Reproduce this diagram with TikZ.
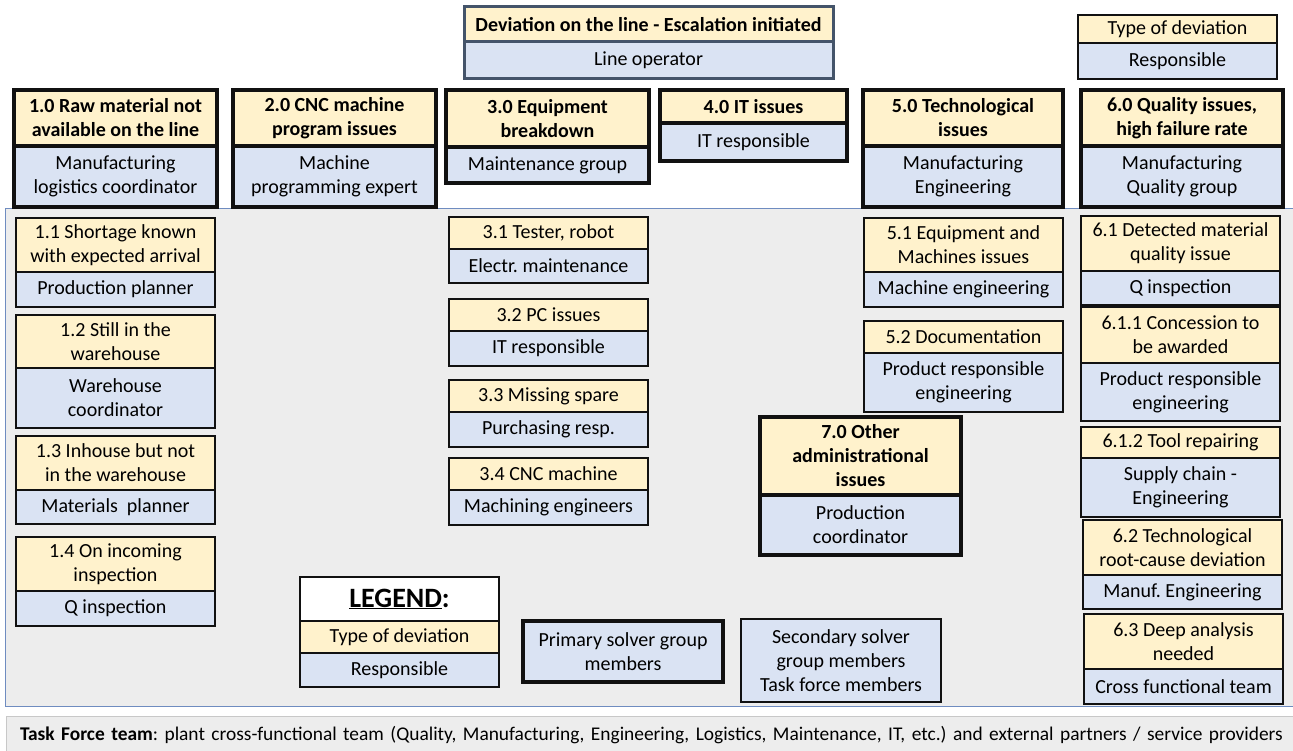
\documentclass[tikz,border=0pt]{standalone}
\usepackage{fontspec}
\setmainfont{Carlito}
\usepackage{xcolor}
\usetikzlibrary{positioning}
\definecolor{typyellow}{HTML}{FFF2CC}
\definecolor{resblue}{HTML}{DAE3F3}
\definecolor{zonegray}{HTML}{EDEDED}
\definecolor{zoneedge}{HTML}{6F8CC0}
\definecolor{slate}{HTML}{44546A}
\definecolor{baredge}{HTML}{C8C8C8}
\definecolor{ink}{HTML}{111111}
\frenchspacing
\tikzset{
  cell/.style={rectangle,draw=ink,line width=1.8pt,outer sep=0pt,inner sep=1pt,
               align=center,anchor=north west,font=\fontsize{20}{24}\selectfont},
  typcell/.style={cell,fill=typyellow},
  rescell/.style={cell,fill=resblue},
  primary/.style={line width=4pt},
  headtxt/.style={font=\fontsize{20}{24}\selectfont\bfseries},
  startbox/.style={draw=slate,line width=3pt},
  zone/.style={rectangle,draw=zoneedge,fill=zonegray,line width=1pt,
               outer sep=0pt,anchor=north west},
  taskbar/.style={rectangle,draw=baredge,fill=zonegray,line width=1pt,
                  outer sep=0pt,anchor=north west,align=left,inner xsep=14pt,
                  font=\fontsize{19.4}{22}\selectfont}
}

\begin{document}
\begin{tikzpicture}[x=1pt,y=-1pt]
    \useasboundingbox[fill=white] (0,0) rectangle (1293,751);

    % background zones
    \node[zone,minimum width=1290pt,minimum height=497pt] (sub) at (5,209) {};
    \node[taskbar,text width=1266pt,minimum height=38pt] (task) at (6,716)
      {\textbf{Task Force team}: plant cross-functional team (Quality, Manufacturing,
       Engineering, Logistics, Maintenance, IT, etc.) and external partners / service providers};

    % start of escalation and key
    \node[typcell,headtxt,startbox,minimum width=369pt,minimum height=35pt] (dline) at (464,7)
      {Deviation on the line - Escalation initiated};
    \node[rescell,startbox,minimum width=369pt,minimum height=37pt,below=0pt of dline] (rline)
      {Line operator};
    \node[typcell,minimum width=199pt,minimum height=28pt] (dkey) at (1078,15) {Type of deviation};
    \node[rescell,minimum width=199pt,minimum height=36pt,below=0pt of dkey] (rkey) {Responsible};

    % primary solver groups
    \node[typcell,primary,headtxt,minimum width=203pt,minimum height=56pt] (d10) at (14,90)
      {1.0 Raw material not\\available on the line};
    \node[rescell,primary,minimum width=203pt,minimum height=61pt,below=0pt of d10] (r10)
      {Manufacturing\\logistics coordinator};
    \node[typcell,primary,headtxt,minimum width=203pt,minimum height=56pt] (d20) at (233,90)
      {2.0 CNC machine\\program issues};
    \node[rescell,primary,minimum width=203pt,minimum height=61pt,below=0pt of d20] (r20)
      {Machine\\programming expert};
    \node[typcell,primary,headtxt,minimum width=203pt,minimum height=57pt] (d30) at (446,90)
      {3.0 Equipment\\breakdown};
    \node[rescell,primary,minimum width=203pt,minimum height=36pt,below=0pt of d30] (r30)
      {Maintenance group};
    \node[typcell,primary,headtxt,minimum width=187pt,minimum height=33pt] (d40) at (660,90)
      {4.0 IT issues};
    \node[rescell,primary,minimum width=187pt,minimum height=38pt,below=0pt of d40] (r40)
      {IT responsible};
    \node[typcell,primary,headtxt,minimum width=200pt,minimum height=56pt] (d50) at (863,90)
      {5.0 Technological\\issues};
    \node[rescell,primary,minimum width=200pt,minimum height=61pt,below=0pt of d50] (r50)
      {Manufacturing\\Engineering};
    \node[typcell,primary,headtxt,minimum width=202pt,minimum height=56pt] (d60) at (1081,90)
      {6.0 Quality issues,\\high failure rate};
    \node[rescell,primary,minimum width=202pt,minimum height=61pt,below=0pt of d60] (r60)
      {Manufacturing\\Quality group};
    \node[typcell,primary,headtxt,minimum width=201pt,minimum height=78pt] (d70) at (760,417)
      {7.0 Other\\administrational\\issues};
    \node[rescell,primary,minimum width=201pt,minimum height=60pt,below=0pt of d70] (r70)
      {Production\\coordinator};

    % column 1
    \node[typcell,minimum width=199pt,minimum height=54pt] (d11) at (16,218)
      {1.1 Shortage known\\with expected arrival};
    \node[rescell,minimum width=199pt,minimum height=35pt,below=0pt of d11] (r11) {Production planner};
    \node[typcell,minimum width=199pt,minimum height=53pt] (d12) at (16,315)
      {1.2 Still in the\\warehouse};
    \node[rescell,minimum width=199pt,minimum height=60pt,below=0pt of d12] (r12)
      {Warehouse\\coordinator};
    \node[typcell,minimum width=199pt,minimum height=54pt] (d13) at (16,436)
      {1.3 Inhouse but not\\in the warehouse};
    \node[rescell,minimum width=199pt,minimum height=34pt,below=0pt of d13] (r13) {Materials~ planner};
    \node[typcell,minimum width=199pt,minimum height=54pt] (d14) at (16,537)
      {1.4 On incoming\\inspection};
    \node[rescell,minimum width=199pt,minimum height=35pt,below=0pt of d14] (r14) {Q inspection};

    % column 3
    \node[typcell,minimum width=199pt,minimum height=32pt] (d31) at (449,217) {3.1 Tester, robot};
    \node[rescell,minimum width=199pt,minimum height=34pt,below=0pt of d31] (r31) {Electr. maintenance};
    \node[typcell,minimum width=199pt,minimum height=32pt] (d32) at (449,299) {3.2 PC issues};
    \node[rescell,minimum width=199pt,minimum height=35pt,below=0pt of d32] (r32) {IT responsible};
    \node[typcell,minimum width=199pt,minimum height=32pt] (d33) at (449,380) {3.3 Missing spare};
    \node[rescell,minimum width=199pt,minimum height=35pt,below=0pt of d33] (r33) {Purchasing resp.};
    \node[typcell,minimum width=199pt,minimum height=32pt] (d34) at (449,458) {3.4 CNC machine};
    \node[rescell,minimum width=199pt,minimum height=35pt,below=0pt of d34] (r34) {Machining engineers};

    % column 5
    \node[typcell,minimum width=199pt,minimum height=54pt] (d51) at (864,218)
      {5.1 Equipment and\\Machines issues};
    \node[rescell,minimum width=199pt,minimum height=35pt,below=0pt of d51] (r51) {Machine engineering};
    \node[typcell,minimum width=199pt,minimum height=32pt] (d52) at (864,321) {5.2 Documentation};
    \node[rescell,minimum width=199pt,minimum height=59pt,below=0pt of d52] (r52)
      {Product responsible\\engineering};

    % column 6
    \node[typcell,minimum width=199pt,minimum height=55pt] (d61) at (1081,216)
      {6.1 Detected material\\quality issue};
    \node[rescell,minimum width=199pt,minimum height=34pt,below=0pt of d61] (r61) {Q inspection};
    \node[typcell,minimum width=199pt,minimum height=56pt] (d611) at (1081,307)
      {6.1.1 Concession to\\be awarded};
    \node[rescell,minimum width=199pt,minimum height=58pt,below=0pt of d611] (r611)
      {Product responsible\\engineering};
    \node[typcell,minimum width=199pt,minimum height=31pt] (d612) at (1081,427) {6.1.2 Tool repairing};
    \node[rescell,minimum width=199pt,minimum height=59pt,below=0pt of d612] (r612)
      {Supply chain -\\Engineering};
    \node[typcell,minimum width=199pt,minimum height=55pt] (d62) at (1083,520)
      {6.2 Technological\\root-cause deviation};
    \node[rescell,minimum width=199pt,minimum height=34pt,below=0pt of d62] (r62) {Manuf. Engineering};
    \node[typcell,minimum width=199pt,minimum height=55pt] (d63) at (1084,614)
      {6.3 Deep analysis\\needed};
    \node[rescell,minimum width=199pt,minimum height=35pt,below=0pt of d63] (r63) {Cross functional team};

    % legend
    \node[cell,fill=white,minimum width=199pt,minimum height=44pt,
          font=\fontsize{28}{32}\selectfont\bfseries] (lgd) at (300,577)
      {\underline{LEGEND}:};
    \node[typcell,minimum width=199pt,minimum height=32pt,below=0pt of lgd] (ltyp) {Type of deviation};
    \node[rescell,minimum width=199pt,minimum height=34pt,below=0pt of ltyp] (lres) {Responsible};
    \node[rescell,primary,minimum width=200pt,minimum height=61pt] (lprim) at (523,621)
      {Primary solver group\\members};
    \node[rescell,minimum width=200pt,minimum height=83pt] (lsec) at (741,619)
      {Secondary solver\\group members\\Task force members};
  \end{tikzpicture}
\end{document}
